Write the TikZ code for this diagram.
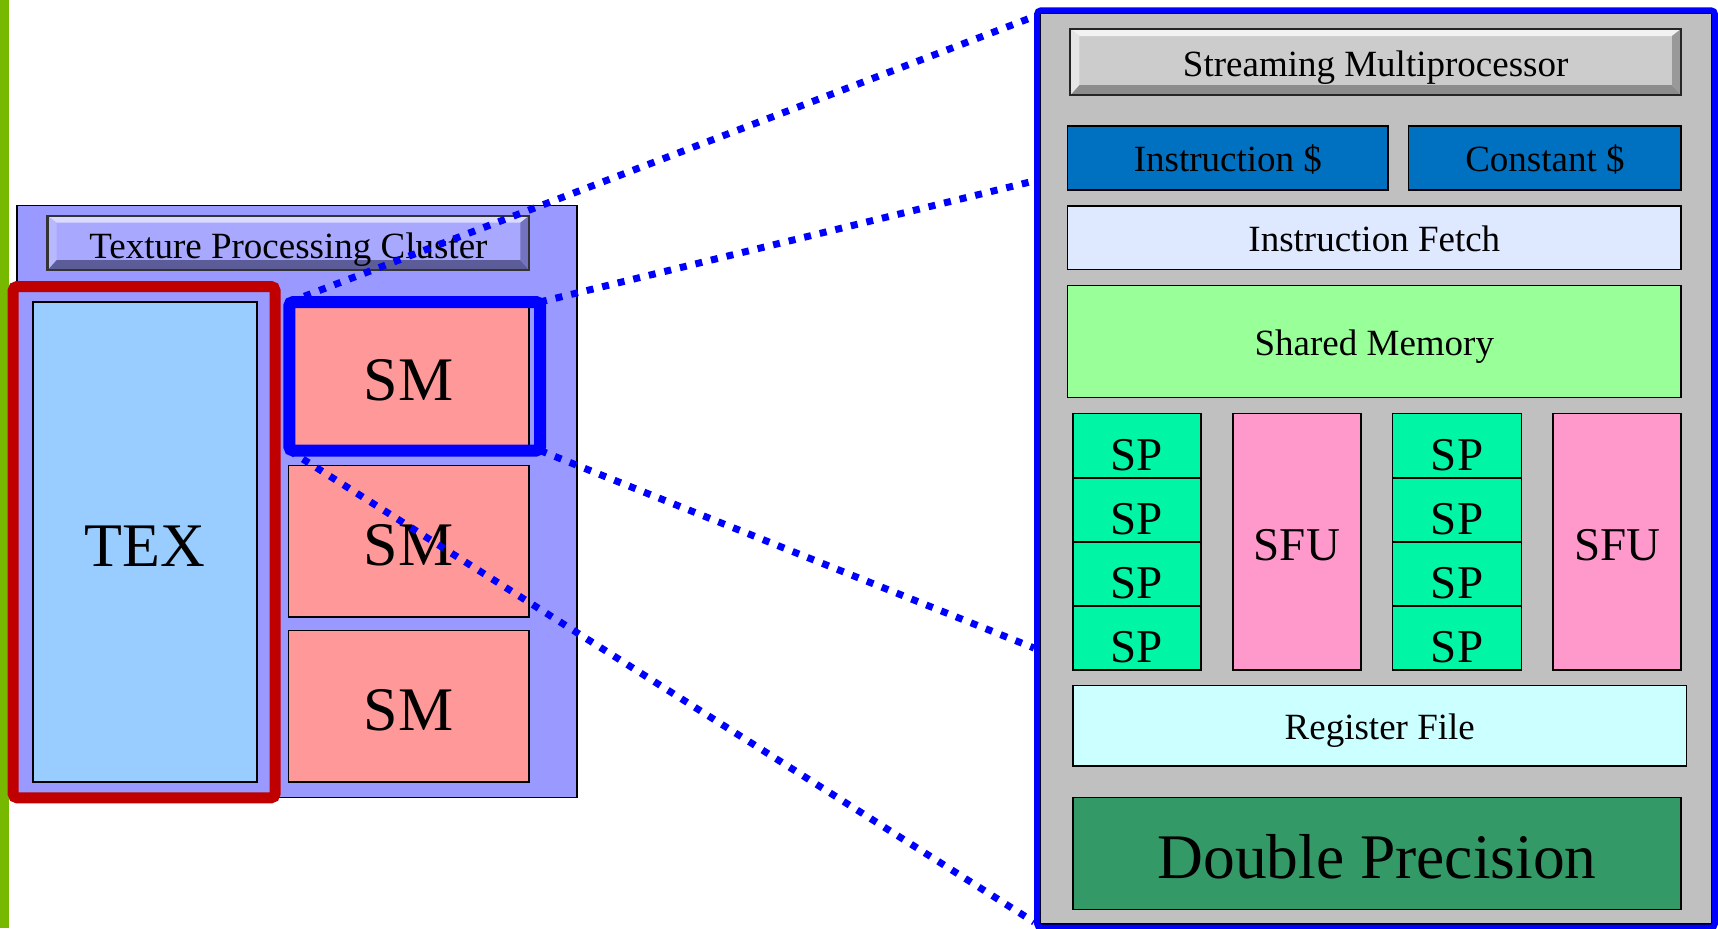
\documentclass[tikz,border=0pt]{standalone}
\usepackage{fontspec}
\setmainfont{Liberation Serif}
\definecolor{nvgreen}{RGB}{118,185,0}
\definecolor{tpcfill}{RGB}{153,153,255}
\definecolor{texfill}{RGB}{153,204,255}
\definecolor{smfill}{RGB}{255,153,153}
\definecolor{selred}{RGB}{192,0,0}
\definecolor{selblue}{RGB}{0,0,255}
\definecolor{panelgrey}{RGB}{192,192,192}
\definecolor{cachefill}{RGB}{0,112,192}
\definecolor{fetchfill}{RGB}{222,233,255}
\definecolor{shmfill}{RGB}{153,255,153}
\definecolor{spfill}{RGB}{0,245,165}
\definecolor{sfufill}{RGB}{255,153,204}
\definecolor{regfill}{RGB}{204,255,255}
\definecolor{dpfill}{RGB}{51,153,102}
\begin{document}
\begin{tikzpicture}[x=0.5pt,y=-0.5pt,
  cb/.style n args={4}{at={({((#1)+(#3))/2},{((#2)+(#4))/2})},
    minimum width=((#3)-(#1))*0.5pt, minimum height=((#4)-(#2))*0.5pt,
    inner sep=0pt, outer sep=0pt},
  box/.style={draw=black, line width=0.75pt},
  bl/.style={text height=#1pt, text depth=0pt},
  fA/.style={font=\fontsize{18.5}{22}\selectfont},
  fB/.style={font=\fontsize{23.5}{28}\selectfont},
  fC/.style={font=\fontsize{31}{37}\selectfont},
  fD/.style={font=\fontsize{31.75}{38}\selectfont},
  dotline/.style={draw=selblue, line width=3.5pt, dash pattern=on 3.5pt off 4.5pt},
  bevel/.style n args={6}{fill=#1, draw=#2, line width=1.1pt,
    path picture={
      \fill[#3] (path picture bounding box.north west) -- (path picture bounding box.north east)
        -- ([xshift=-4.5pt,yshift=-3.5pt]path picture bounding box.north east)
        -- ([xshift=4.5pt,yshift=-3.5pt]path picture bounding box.north west) -- cycle;
      \fill[#4] (path picture bounding box.south west) -- (path picture bounding box.south east)
        -- ([xshift=-4.5pt,yshift=5pt]path picture bounding box.south east)
        -- ([xshift=4.5pt,yshift=5pt]path picture bounding box.south west) -- cycle;
      \fill[#5] (path picture bounding box.north west) -- (path picture bounding box.south west)
        -- ([xshift=4.5pt,yshift=5pt]path picture bounding box.south west)
        -- ([xshift=4.5pt,yshift=-3.5pt]path picture bounding box.north west) -- cycle;
      \fill[#6] (path picture bounding box.north east) -- (path picture bounding box.south east)
        -- ([xshift=-4.5pt,yshift=5pt]path picture bounding box.south east)
        -- ([xshift=-4.5pt,yshift=-3.5pt]path picture bounding box.north east) -- cycle;
    }},
  ]
\useasboundingbox (0,0) rectangle (1718,928);
\fill[nvgreen] (0,0) rectangle (9,928);

% Texture Processing Cluster
\node[box, fill=tpcfill, cb={16.8}{205.7}{577}{797.7}] (tpc) {};
\node[bevel={tpcfill!85!white}{black!80}{tpcfill!35!white}{tpcfill!60!black}{tpcfill!70!white}{tpcfill!75!black},
  cb={47.5}{215.7}{529.3}{270}, fA, bl=15.5] (tpctitle) {Texture Processing Cluster};
\node[box, fill=texfill, cb={32.9}{302}{257.2}{782}, fC, bl=24] (tex) {TEX};
\node[box, fill=smfill, cb={288.5}{300}{529}{451}, fC, bl=25] (sm1) {SM};
\node[box, fill=smfill, cb={288.5}{465.7}{529}{617}, fC, bl=24] (sm2) {SM};
\node[box, fill=smfill, cb={288.5}{630.7}{529}{782}, fC, bl=24] (sm3) {SM};
\node[draw=selred, line width=5.5pt, rounded corners=2pt, cb={13.2}{286.5}{275}{797.8}] (texsel) {};
\node[draw=selblue, line width=6pt, rounded corners=2pt, cb={289.3}{302}{540}{450.5}] (sel) {};

% Streaming Multiprocessor detail
\node[box, fill=panelgrey, cb={1040.5}{13.5}{1711.5}{924}] (panel) {};
\node[draw=selblue, line width=3pt, rounded corners=2pt, cb={1037}{10.3}{1715}{927.5}] (smbig) {};
\node[bevel={black!20}{black!85}{white!95!black}{black!45}{black!10}{black!40},
  cb={1070.3}{29}{1681}{95}, fA, bl=14] (smtitle) {Streaming Multiprocessor};
\node[box, fill=cachefill, cb={1067.6}{126}{1388.2}{190}, fA, bl=13.7] (icache) {Instruction \$};
\node[box, fill=cachefill, cb={1408.7}{126}{1681.2}{190}, fA, bl=13.7] (ccache) {Constant \$};
\node[box, fill=fetchfill, cb={1067.6}{206}{1681}{269.3}, fA, bl=14] (fetch) {Instruction Fetch};
\node[box, fill=shmfill, cb={1067.6}{285.7}{1681}{397.3}, fA, bl=13.5] (shmem) {Shared Memory};
\foreach \i in {0,1,2,3} {
  \node[box, fill=spfill, cb={1073}{413.7+64.075*\i}{1200.8}{477.775+64.075*\i}, fB, bl=24.3] (spA\i) {SP};
  \node[box, fill=spfill, cb={1392.7}{413.7+64.075*\i}{1521.3}{477.775+64.075*\i}, fB, bl=24.3] (spB\i) {SP};
}
\node[box, fill=sfufill, cb={1232.8}{413.7}{1361}{670}, fB, bl=18.2] (sfu1) {SFU};
\node[box, fill=sfufill, cb={1553}{413.7}{1681.2}{670}, fB, bl=18.2] (sfu2) {SFU};
\node[box, fill=regfill, cb={1073}{685.7}{1686.5}{766}, fA, bl=14] (regfile) {Register File};
\node[box, fill=dpfill, cb={1073}{797.3}{1681}{909.3}, fD, bl=25] (dp) {Double Precision};

% zoom connectors
\coordinate (e1) at (1034,16.6);
\coordinate (e2) at (1034,181);
\coordinate (e3) at (1034,648);
\coordinate (e4) at (1034,922);
\draw[dotline] (sel.north west) -- (e1);
\draw[dotline] (sel.north east) -- (e2);
\draw[dotline] (sel.south east) -- (e3);
\draw[dotline] (sel.south west) -- (e4);
\end{tikzpicture}
\end{document}
